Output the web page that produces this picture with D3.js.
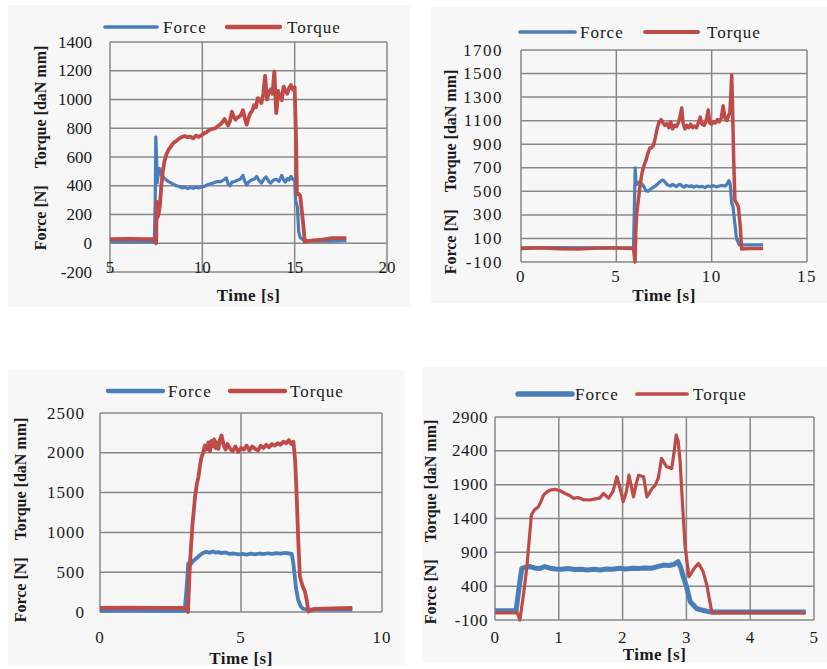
<!DOCTYPE html>
<html>
<head>
<meta charset="utf-8">
<script src="https://cdn.jsdelivr.net/npm/d3@7"></script>
<style>
  body { margin: 0; background: #fff; }
  text { font-family: "Liberation Serif", "Times New Roman", serif; fill: #1a1a1a; }
  .grid { stroke: #888; stroke-width: 1.5px; fill: none; }
  .tick { font-size: 17px; }
  .legend { font-size: 17px; letter-spacing: 1px; }
  .title { font-size: 17px; font-weight: bold; }
</style>
</head>
<body>
<svg id="chart" width="827" height="669"></svg>
<script>
// time [s], value pairs
const p1Force = [[5,12],[6,10],[7,12],[7.4,12],[7.45,300],[7.48,740],[7.52,600],[7.56,420],[7.62,500],[7.68,520],[7.75,480],[7.85,465],[8.0,445],[8.15,430],[8.3,420],[8.45,410],[8.6,400],[8.75,395],[8.9,385],[9.05,390],[9.2,380],[9.35,388],[9.5,382],[9.65,390],[9.8,385],[9.95,392],[10.1,395],[10.25,405],[10.4,412],[10.55,418],[10.7,425],[10.85,430],[11.0,428],[11.15,440],[11.3,455],[11.4,410],[11.5,400],[11.6,425],[11.75,430],[11.9,438],[12.05,445],[12.2,472],[12.3,430],[12.4,405],[12.5,425],[12.65,440],[12.8,445],[12.95,465],[13.05,440],[13.2,418],[13.3,440],[13.45,462],[13.6,430],[13.7,418],[13.85,440],[14.0,445],[14.15,430],[14.3,472],[14.4,440],[14.5,425],[14.6,450],[14.7,440],[14.8,465],[14.9,445],[15.0,440],[15.05,300],[15.15,250],[15.22,80],[15.3,40],[15.5,20],[16,15],[17,15],[17.8,18]];
const p1Torque = [[5,28],[6,30],[7,28],[7.45,28],[7.5,0],[7.53,290],[7.58,180],[7.64,210],[7.7,260],[7.78,400],[7.86,500],[7.95,570],[8.05,615],[8.15,645],[8.3,675],[8.45,700],[8.6,712],[8.75,730],[8.9,740],[9.05,745],[9.2,738],[9.35,742],[9.5,730],[9.65,748],[9.8,740],[9.95,750],[10.1,765],[10.25,775],[10.4,790],[10.55,795],[10.7,800],[10.85,815],[11.0,830],[11.1,845],[11.2,865],[11.3,840],[11.4,820],[11.5,850],[11.6,915],[11.7,880],[11.8,860],[11.9,875],[12.0,880],[12.1,895],[12.2,925],[12.3,870],[12.4,825],[12.5,870],[12.6,905],[12.7,920],[12.8,960],[12.9,945],[13.0,1010],[13.1,995],[13.2,975],[13.3,1040],[13.4,1165],[13.45,1080],[13.5,1000],[13.6,1050],[13.7,1070],[13.8,1040],[13.9,1195],[13.95,1050],[14.0,905],[14.05,960],[14.1,1060],[14.2,1020],[14.3,995],[14.4,1090],[14.5,1060],[14.6,1040],[14.7,1080],[14.8,1100],[14.9,1070],[15.0,1085],[15.08,700],[15.12,340],[15.2,345],[15.3,330],[15.45,150],[15.55,10],[15.7,15],[16,20],[16.5,25],[17,35],[17.8,35]];
const p1XTicks = [5, 10, 15, 20];
const p1YTicks = [-200, 0, 200, 400, 600, 800, 1000, 1200, 1400];

const p2Force = [[0,20],[2,22],[4,20],[5.9,20],[5.95,400],[5.99,700],[6.03,580],[6.08,560],[6.15,575],[6.25,585],[6.35,560],[6.45,540],[6.55,505],[6.65,500],[6.75,510],[6.85,525],[6.95,535],[7.05,545],[7.15,560],[7.25,575],[7.35,590],[7.45,595],[7.55,580],[7.65,560],[7.75,550],[7.85,545],[7.95,560],[8.05,550],[8.15,540],[8.25,555],[8.35,560],[8.45,545],[8.55,535],[8.65,550],[8.75,545],[8.85,540],[8.95,548],[9.05,535],[9.2,545],[9.35,538],[9.5,542],[9.65,532],[9.8,545],[9.95,540],[10.1,548],[10.25,538],[10.4,545],[10.55,550],[10.7,545],[10.8,560],[10.9,590],[10.97,565],[11.05,400],[11.12,370],[11.2,250],[11.3,100],[11.45,45],[12,45],[12.7,45]];
const p2Torque = [[0,15],[1,20],[2,12],[3,10],[4,18],[5,18],[5.9,15],[5.98,-100],[6.03,200],[6.07,316],[6.15,420],[6.25,560],[6.35,660],[6.45,720],[6.55,760],[6.65,820],[6.76,868],[6.85,870],[6.95,890],[7.05,960],[7.15,1040],[7.25,1090],[7.35,1110],[7.45,1080],[7.55,1060],[7.65,1075],[7.75,1040],[7.85,1090],[7.95,1030],[8.05,1060],[8.15,1050],[8.25,1080],[8.35,1140],[8.43,1207],[8.5,1080],[8.6,1030],[8.7,1060],[8.8,1040],[8.9,1070],[9.0,1040],[9.1,1055],[9.2,1040],[9.3,1080],[9.4,1130],[9.5,1070],[9.6,1060],[9.7,1090],[9.82,1190],[9.9,1080],[10.0,1070],[10.1,1090],[10.2,1080],[10.3,1110],[10.4,1090],[10.5,1120],[10.6,1226],[10.7,1120],[10.8,1100],[10.9,1150],[10.95,1160],[11.0,1300],[11.05,1490],[11.1,1200],[11.15,800],[11.22,420],[11.3,400],[11.4,370],[11.5,200],[11.57,10],[12,15],[12.7,15]];
const p2XTicks = [0, 5, 10, 15];
const p2YTicks = [-100, 100, 300, 500, 700, 900, 1100, 1300, 1500, 1700];

const p3Force = [[0,15],[1,18],[2,15],[3.0,15],[3.07,300],[3.13,610],[3.22,600],[3.3,640],[3.41,672],[3.5,700],[3.6,730],[3.7,750],[3.78,756],[3.88,745],[4.0,760],[4.1,745],[4.2,752],[4.3,740],[4.45,748],[4.6,730],[4.75,735],[4.9,725],[5.05,730],[5.2,722],[5.35,732],[5.5,725],[5.65,735],[5.8,728],[5.95,738],[6.1,730],[6.25,740],[6.4,732],[6.55,742],[6.7,735],[6.8,730],[6.86,600],[6.95,300],[7.03,150],[7.12,70],[7.2,40],[7.5,30],[8.95,30]];
const p3Torque = [[0,50],[1,55],[2,52],[3.05,50],[3.12,0],[3.19,610],[3.28,1100],[3.37,1445],[3.43,1600],[3.49,1695],[3.55,1850],[3.6,1946],[3.66,2000],[3.72,2092],[3.78,2040],[3.85,2130],[3.9,2020],[3.95,2150],[4.0,2080],[4.05,2170],[4.1,2060],[4.15,2130],[4.2,2050],[4.25,2160],[4.31,2218],[4.38,2100],[4.45,2040],[4.52,2110],[4.6,2060],[4.7,2020],[4.8,2080],[4.9,2010],[5.0,2060],[5.1,2040],[5.2,2090],[5.3,2030],[5.4,2080],[5.5,2050],[5.6,2030],[5.7,2090],[5.8,2060],[5.9,2100],[6.0,2070],[6.1,2110],[6.2,2090],[6.3,2120],[6.4,2100],[6.5,2140],[6.6,2120],[6.7,2160],[6.78,2110],[6.86,2140],[6.92,1900],[6.97,1500],[7.03,900],[7.09,442],[7.18,330],[7.27,254],[7.33,150],[7.39,5],[7.6,40],[8.95,50]];
const p3XTicks = [0, 5, 10];
const p3YTicks = [0, 500, 1000, 1500, 2000, 2500];

const p4Force = [[0,35],[0.33,35],[0.38,400],[0.42,664],[0.48,680],[0.55,690],[0.62,670],[0.7,660],[0.78,690],[0.86,665],[0.95,655],[1.05,650],[1.15,660],[1.25,645],[1.35,650],[1.45,640],[1.55,650],[1.65,640],[1.75,655],[1.85,650],[1.95,665],[2.05,655],[2.15,665],[2.25,660],[2.35,670],[2.45,665],[2.55,690],[2.64,712],[2.72,705],[2.8,720],[2.87,761],[2.91,680],[2.95,540],[3.0,400],[3.06,170],[3.16,70],[3.27,40],[3.37,20],[4.87,20]];
const p4Torque = [[0,5],[0.35,5],[0.39,-100],[0.45,300],[0.5,687],[0.57,1451],[0.62,1530],[0.68,1573],[0.72,1650],[0.76,1746],[0.81,1790],[0.86,1820],[0.94,1830],[1.02,1810],[1.1,1770],[1.17,1740],[1.23,1698],[1.3,1710],[1.38,1680],[1.49,1673],[1.57,1690],[1.64,1700],[1.7,1770],[1.78,1700],[1.85,1800],[1.91,2017],[1.96,1850],[2.01,1650],[2.06,1800],[2.1,2040],[2.17,1720],[2.21,1900],[2.25,2040],[2.33,2017],[2.38,1720],[2.42,1780],[2.46,1840],[2.51,1890],[2.56,2000],[2.61,2288],[2.69,2165],[2.77,2140],[2.81,2400],[2.84,2633],[2.87,2550],[2.9,2263],[2.94,1600],[2.98,983],[3.04,540],[3.12,660],[3.19,737],[3.26,620],[3.32,417],[3.4,5],[4.87,5]];
const p4XTicks = [0, 1, 2, 3, 4, 5];
const p4YTicks = [-100, 400, 900, 1400, 1900, 2400, 2900];

const forceColor = '#4a7ebb';
const torqueColor = '#be4b48';

// layout of the four panels (pixels)
const panels = [
  { force: p1Force, torque: p1Torque, xTicks: p1XTicks, yTicks: p1YTicks,
    bg: [8, 5, 410, 307], plot: [110, 42, 387, 272], xLabelY: 267, timeY: 295,
    legendY: 27, legend: [105, 157, 163, 227, 280, 287], yTitle: [40, 148], yGap: 18, fw: 3.2, tw: 3.8, spacing: 0 },
  { force: p2Force, torque: p2Torque, xTicks: p2XTicks, yTicks: p2YTicks,
    bg: [431, 7, 827, 303], plot: [521, 50, 807, 262], xLabelY: 276, timeY: 295,
    legendY: 32, legend: [520, 575, 580, 645, 698, 707], yTitle: [450, 172], yGap: 18, fw: 3.2, tw: 3.5, spacing: 1.5 },
  { force: p3Force, torque: p3Torque, xTicks: p3XTicks, yTicks: p3YTicks,
    bg: [8, 370, 405, 665], plot: [100, 413, 382, 612], xLabelY: 637, timeY: 658,
    legendY: 391, legend: [108, 163, 168, 230, 285, 290], yTitle: [20, 520], yGap: 15, fw: 3.8, tw: 3.8, spacing: 1 },
  { force: p4Force, torque: p4Torque, xTicks: p4XTicks, yTicks: p4YTicks,
    bg: [422, 367, 827, 662], plot: [495, 417, 814, 620], xLabelY: 637, timeY: 654,
    legendY: 394, legend: [518, 572, 575, 637, 687, 693], yTitle: [430, 522], yGap: 7, fw: 5, tw: 3.2, spacing: 0.5 }
];

const svg = d3.select('#chart');

panels.forEach(p => {
  const [x0, y0, x1, y1] = p.plot;
  const x = d3.scaleLinear().domain(d3.extent(p.xTicks)).range([x0, x1]);
  const y = d3.scaleLinear().domain(d3.extent(p.yTicks)).range([y1, y0]);
  const g = svg.append('g');

  g.append('rect')
    .attr('x', p.bg[0]).attr('y', p.bg[1])
    .attr('width', p.bg[2] - p.bg[0]).attr('height', p.bg[3] - p.bg[1])
    .attr('fill', '#f7f7f7');

  // grid
  g.selectAll('.hgrid').data(p.yTicks).enter().append('line')
    .attr('class', 'grid')
    .attr('x1', x0).attr('x2', x1)
    .attr('y1', d => y(d)).attr('y2', d => y(d));
  g.selectAll('.vgrid').data(p.xTicks).enter().append('line')
    .attr('class', 'grid')
    .attr('x1', d => x(d)).attr('x2', d => x(d))
    .attr('y1', y0).attr('y2', y1);

  // tick labels
  g.selectAll('.ylab').data(p.yTicks).enter().append('text')
    .attr('class', 'tick')
    .attr('x', x0 - p.yGap).attr('y', d => y(d))
    .attr('text-anchor', 'end').attr('dominant-baseline', 'central')
    .style('letter-spacing', p.spacing + 'px')
    .text(d => d);
  g.selectAll('.xlab').data(p.xTicks).enter().append('text')
    .attr('class', 'tick')
    .attr('x', d => x(d)).attr('y', p.xLabelY)
    .attr('text-anchor', 'middle').attr('dominant-baseline', 'central')
    .style('letter-spacing', p.spacing + 'px')
    .text(d => d);

  // series
  const line = d3.line().x(d => x(d[0])).y(d => y(d[1]));
  g.append('path').datum(p.force)
    .attr('fill', 'none').attr('stroke', forceColor)
    .attr('stroke-width', p.fw).attr('stroke-linejoin', 'round')
    .attr('d', line);
  g.append('path').datum(p.torque)
    .attr('fill', 'none').attr('stroke', torqueColor)
    .attr('stroke-width', p.tw).attr('stroke-linejoin', 'round')
    .attr('d', line);

  // axis titles
  g.append('text').attr('class', 'title')
    .attr('x', (x0 + x1) / 2).attr('y', p.timeY)
    .attr('text-anchor', 'middle').attr('dominant-baseline', 'central')
    .style('letter-spacing', '0.5px')
    .text('Time [s]');
  const yt = g.append('text').attr('class', 'title')
    .attr('transform', `translate(${p.yTitle[0]},${p.yTitle[1]}) rotate(-90)`)
    .attr('text-anchor', 'middle').attr('dominant-baseline', 'central')
    .style('font-size', '16px');
  yt.append('tspan').text('Force [N]');
  yt.append('tspan').attr('dx', 17).text('Torque [daN mm]');

  // legend
  const L = p.legend;
  g.append('line').attr('x1', L[0]).attr('x2', L[1]).attr('y1', p.legendY).attr('y2', p.legendY)
    .attr('stroke', forceColor).attr('stroke-width', p.fw + 0.5).attr('stroke-linecap', 'round');
  g.append('text').attr('class', 'legend').attr('x', L[2]).attr('y', p.legendY)
    .attr('dominant-baseline', 'central').text('Force');
  g.append('line').attr('x1', L[3]).attr('x2', L[4]).attr('y1', p.legendY).attr('y2', p.legendY)
    .attr('stroke', torqueColor).attr('stroke-width', p.tw + 0.5).attr('stroke-linecap', 'round');
  g.append('text').attr('class', 'legend').attr('x', L[5]).attr('y', p.legendY)
    .attr('dominant-baseline', 'central').text('Torque');
});
</script>
</body>
</html>
